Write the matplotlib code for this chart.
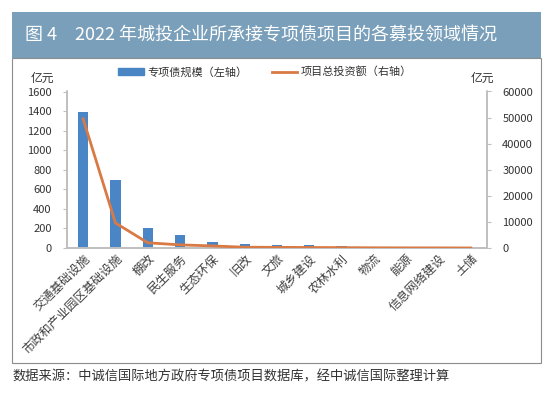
import numpy as np
import matplotlib.pyplot as plt
from matplotlib.patches import Rectangle
from matplotlib.lines import Line2D

plt.rcParams['font.family'] = ['Noto Sans CJK SC', 'DejaVu Sans']

# data
categories = ['交通基础设施', '市政和产业园区基础设施', '棚改', '民生服务', '生态环保', '旧改',
              '文旅', '城乡建设', '农林水利', '物流', '能源', '信息网络建设', '土储']
bond_scale = [1388, 700, 200, 135, 60, 42, 35, 30, 25, 6, 5, 3, 2]          # 亿元, left axis
total_invest = [49500, 9600, 2000, 1200, 800, 300, 250, 200, 150, 80, 60, 40, 20]  # 亿元, right axis
left_ticks = [0, 200, 400, 600, 800, 1000, 1200, 1400, 1600]
right_ticks = [0, 10000, 20000, 30000, 40000, 50000, 60000]

W, H = 550, 399
fig = plt.figure(figsize=(W / 100, H / 100), dpi=100)
fig.patch.set_facecolor('white')

# header band and frame (kept behind the axes)
fig.patches.append(Rectangle((12 / W, 1 - 58 / H), 529 / W, 46 / H, transform=fig.transFigure,
                             facecolor='#7a9fba', edgecolor='none', zorder=-2))
fig.patches.append(Rectangle((12 / W, 1 - 363 / H), 529 / W, 305 / H, transform=fig.transFigure,
                             facecolor='white', edgecolor='#8c8c8c', linewidth=0.8, zorder=-2))
fig.text(25 / W, 1 - 35 / H, '图 4　2022 年城投企业所承接专项债项目的各募投领域情况',
         color='white', fontsize=13, va='center', ha='left')
fig.text(12 / W, 1 - 377 / H, '数据来源：中诚信国际地方政府专项债项目数据库，经中诚信国际整理计算',
         color='#333333', fontsize=9.5, va='center', ha='left')

ax = fig.add_axes([67 / W, 151 / H, 420 / W, 156.5 / H])
ax2 = ax.twinx()

x = np.arange(len(categories))
ax.bar(x, bond_scale, width=0.32, color='#4a86c5', zorder=2)
ax2.plot(x, total_invest, color='#d97a44', linewidth=2, zorder=3)

ax.set_xlim(-0.5, len(categories) - 0.5)
ax.set_ylim(0, 1600)
ax2.set_ylim(0, 60000)
ax.set_yticks(left_ticks)
ax2.set_yticks(right_ticks)
ax.set_xticks(x)
ax.set_xticklabels(categories, rotation=45, ha='right', rotation_mode='anchor',
                   fontsize=8.8, color='#404040')

for a in (ax, ax2):
    a.spines['top'].set_visible(False)
    for s in ('left', 'right', 'bottom'):
        a.spines[s].set_color('#bfbfbf')
        a.spines[s].set_linewidth(1.2)
    a.tick_params(axis='y', length=3, width=0.8, color='#bfbfbf', labelsize=8,
                  labelcolor='#333333', pad=8)
ax.tick_params(axis='x', length=0, pad=3)

fig.text(42 / W, 1 - 78 / H, '亿元', fontsize=8.5, color='#333333', ha='center', va='center')
fig.text(482 / W, 1 - 78 / H, '亿元', fontsize=8.5, color='#333333', ha='center', va='center')

handles = [Rectangle((0, 0), 1, 1, color='#4a86c5'),
           Line2D([0], [0], color='#d97a44', linewidth=2)]
fig.legend(handles, ['专项债规模（左轴）', '项目总投资额（右轴）'], ncol=2, frameon=False,
           loc='center', bbox_to_anchor=(265 / W, 1 - 72 / H), fontsize=8,
           handlelength=2.3, handleheight=0.5, columnspacing=2.2, handletextpad=0.3,
           labelcolor='#333333')

fig.savefig('out.png', dpi=100)
